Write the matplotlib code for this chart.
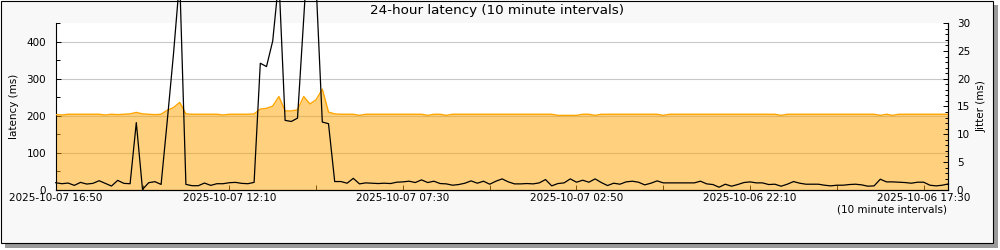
import matplotlib
matplotlib.use("Agg")
import matplotlib.pyplot as plt
from matplotlib.patches import Rectangle
import numpy as np

plt.rcParams['font.family'] = ['DejaVu Sans']

# ---- data (index 0 = 2025-10-07 16:50, going back in 10 minute steps) ----
latency_ms = [
    203, 202, 204, 204, 204, 204, 204, 204, 202, 204,
    203, 204, 205, 209, 205, 204, 203, 204, 215, 222,
    236, 205, 204, 204, 204, 204, 204, 202, 204, 204,
    204, 204, 205, 218, 220, 226, 252, 213, 213, 216,
    252, 232, 243, 272, 210, 205, 204, 204, 204, 201,
    204, 204, 204, 204, 204, 204, 204, 204, 204, 204,
    201, 204, 204, 201, 204, 204, 204, 204, 204, 204,
    204, 204, 204, 204, 204, 204, 204, 204, 204, 204,
    204, 201, 201, 201, 201, 204, 204, 201, 204, 204,
    204, 204, 204, 204, 204, 204, 204, 204, 201, 204,
    204, 204, 204, 204, 204, 204, 204, 204, 204, 204,
    204, 204, 204, 204, 204, 204, 204, 201, 204, 204,
    204, 204, 204, 204, 204, 204, 204, 204, 204, 204,
    204, 204, 204, 201, 204, 201, 204, 204, 204, 204,
    204, 204, 204, 204, 204,
]

jitter_ms = [
    1.26, 1.08, 1.20, 0.78, 1.32, 1.02, 1.14, 1.62, 1.14, 0.66,
    1.68, 1.14, 1.08, 12.1, 0.05, 1.26, 1.45, 0.95, 12.5, 24.5,
    38.0, 0.96, 0.72, 0.72, 1.20, 0.78, 1.08, 1.08, 1.26, 1.32,
    1.14, 1.08, 1.32, 22.8, 22.2, 26.8, 38.0, 12.5, 12.3, 12.9,
    31.0, 48.0, 37.0, 12.2, 11.9, 1.47, 1.47, 1.17, 2.05, 1.05,
    1.23, 1.17, 1.11, 1.17, 1.11, 1.35, 1.41, 1.53, 1.29, 1.77,
    1.29, 1.53, 1.11, 1.05, 0.81, 0.93, 1.17, 1.59, 1.17, 1.53,
    0.99, 1.53, 1.95, 1.41, 1.05, 1.05, 1.11, 1.05, 1.23, 1.83,
    0.69, 1.11, 1.23, 1.95, 1.35, 1.71, 1.35, 1.95, 1.29, 0.75,
    1.17, 0.99, 1.41, 1.53, 1.35, 0.87, 1.17, 1.59, 1.23, 1.23,
    1.23, 1.23, 1.23, 1.23, 1.53, 1.05, 0.93, 0.45, 0.99, 0.63,
    0.93, 1.29, 1.41, 1.23, 1.23, 0.93, 0.99, 0.63, 0.99, 1.47,
    1.17, 0.99, 0.99, 0.99, 0.81, 0.69, 0.81, 0.81, 0.93, 0.99,
    0.87, 0.63, 0.69, 1.89, 1.41, 1.41, 1.35, 1.29, 1.17, 1.35,
    1.35, 0.81, 0.69, 0.81, 1.05,
]

time_labels = [
    "2025-10-07 16:50", "2025-10-07 12:10", "2025-10-07 07:30",
    "2025-10-07 02:50", "2025-10-06 22:10", "2025-10-06 17:30",
]

title = "24-hour latency (10 minute intervals)"
left_label = "latency (ms)"
right_label = "Jitter (ms)"
interval_note = "(10 minute intervals)"

# ---- figure ----
W, H = 1000, 250
fig = plt.figure(figsize=(W / 100, H / 100), dpi=100)
fig.patch.set_facecolor('white')

shadow = Rectangle((5 / W, 1 - 248 / H), 993 / W, 243 / H, transform=fig.transFigure,
                   facecolor='#9a9a9a', edgecolor='none', zorder=-10)
frame = Rectangle((0.5 / W, 1 - 243 / H), 992.5 / W, 242.5 / H, transform=fig.transFigure,
                  facecolor='#f8f8f8', edgecolor='black', lw=0.8, zorder=-9)
fig.patches.extend([shadow, frame])

x0, x1, ytop, ybot = 55.7, 948.5, 23.3, 189.7
ax = fig.add_axes([x0 / W, 1 - ybot / H, (x1 - x0) / W, (ybot - ytop) / H])
ax.set_facecolor('white')

n = len(latency_ms)
x = np.arange(n)
ax.set_xlim(0, n - 1)
ax.set_ylim(0, 450)

ax.fill_between(x, latency_ms, color='#ffa500', alpha=0.5, lw=0, zorder=2)
ax.plot(x, latency_ms, color='#ffa500', lw=1.0, zorder=3)

ax.set_axisbelow(True)
ax.yaxis.grid(True, color='#c8c8c8', lw=0.8)
ax.set_yticks([0, 100, 200, 300, 400])
ax.set_yticks([50, 150, 250, 350, 450], minor=True)

step = 14
xt = np.arange(0, n, step)
ax.set_xticks(xt)
lbls = []
k = 0
for i in range(len(xt)):
    if i % 2 == 0 and k < len(time_labels):
        lbls.append(time_labels[k]); k += 1
    else:
        lbls.append("")
ax.set_xticklabels(lbls)

ax.tick_params(axis='x', direction='in', length=3.6, width=0.7, pad=2.5, labelsize=7.5)
ax.tick_params(axis='y', which='major', direction='in', length=3.6, width=0.7, pad=7, labelsize=7.5)
ax.tick_params(axis='y', which='minor', direction='in', length=2.9, width=0.7)
ax.spines['top'].set_visible(False)
for s in ['left', 'right', 'bottom']:
    ax.spines[s].set_linewidth(0.8)

ax2 = ax.twinx()
ax2.set_ylim(0, 30)
ax2.plot(x, jitter_ms, color='black', lw=0.9, clip_on=False, zorder=5)
ax2.set_yticks([0, 5, 10, 15, 20, 25, 30])
ax2.set_yticks(np.arange(0, 31, 1), minor=True)
ax2.tick_params(axis='y', which='major', direction='in', length=3.6, width=0.7, pad=6, labelsize=7.5)
ax2.tick_params(axis='y', which='minor', direction='in', length=2.2, width=0.7)
ax2.spines['top'].set_visible(False)
ax2.spines['left'].set_visible(False)
ax2.spines['right'].set_linewidth(0.8)
ax2.spines['bottom'].set_linewidth(0.8)

fig.text(497 / W, 1 - 10.5 / H, title, ha='center', va='center', fontsize=9.7)
fig.text(14 / W, 1 - 106.5 / H, left_label, rotation=90, ha='center', va='center', fontsize=7.5)
fig.text(982 / W, 1 - 106.5 / H, right_label, rotation=90, ha='center', va='center', fontsize=7.5)
fig.text(947 / W, 1 - 209 / H, interval_note, ha='right', va='center', fontsize=7.5)

fig.savefig("out.png", dpi=100, facecolor=fig.get_facecolor())
